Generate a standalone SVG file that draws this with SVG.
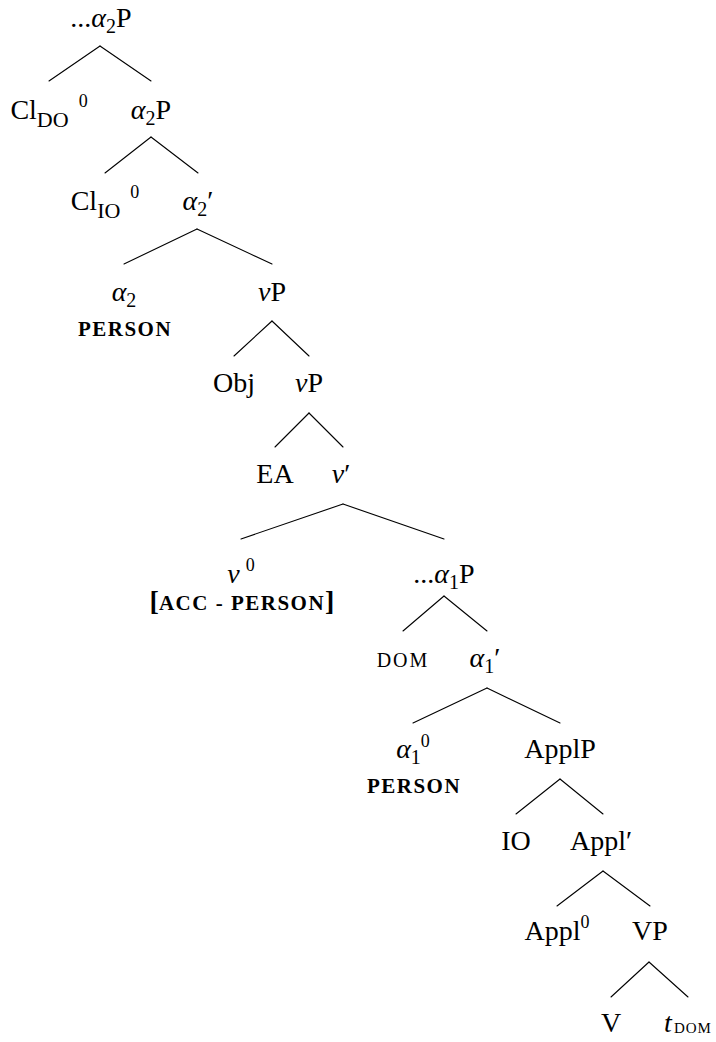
<svg xmlns="http://www.w3.org/2000/svg" width="716" height="1042" viewBox="0 0 716 1042">
<style>
  text { font-family: "Liberation Serif", "Times New Roman", serif; font-size: 28px; fill: #000; text-anchor: middle; }
  .i { font-style: italic; }
  .sub { font-size: 20px; }
  .sub22 { font-size: 22px; }
  .sup { font-size: 18px; }
  .sc { font-size: 20px; letter-spacing: 2px; }
  .scb { font-size: 21px; letter-spacing: 1.5px; font-weight: bold; }
  .scs { font-size: 15px; letter-spacing: 1px; }
  .b { font-weight: bold; }
  #connectors line { stroke: #000; stroke-width: 1.1; stroke-linecap: round; }
</style>
<rect width="716" height="1042" fill="#fff"/>
<g id="connectors">
  <line x1="100" y1="46" x2="49" y2="81"/>
  <line x1="100" y1="46" x2="151" y2="81"/>
  <line x1="151" y1="137" x2="105" y2="173"/>
  <line x1="151" y1="137" x2="198" y2="173"/>
  <line x1="197" y1="229" x2="124" y2="264"/>
  <line x1="197" y1="229" x2="272" y2="264"/>
  <line x1="272" y1="321" x2="234" y2="356"/>
  <line x1="272" y1="321" x2="309" y2="356"/>
  <line x1="309" y1="413" x2="275" y2="447"/>
  <line x1="309" y1="413" x2="343" y2="447"/>
  <line x1="343" y1="504" x2="241" y2="539"/>
  <line x1="343" y1="504" x2="444" y2="539"/>
  <line x1="444" y1="596" x2="403" y2="631"/>
  <line x1="444" y1="596" x2="487" y2="631"/>
  <line x1="487" y1="688" x2="413" y2="723"/>
  <line x1="487" y1="688" x2="560" y2="723"/>
  <line x1="560" y1="779" x2="516" y2="814"/>
  <line x1="560" y1="779" x2="603" y2="814"/>
  <line x1="603" y1="871" x2="557" y2="906"/>
  <line x1="603" y1="871" x2="650" y2="906"/>
  <line x1="649" y1="962" x2="611" y2="997"/>
  <line x1="649" y1="962" x2="688" y2="997"/>
</g>
<g id="n-a2P-top"><text x="101" y="27">...<tspan class="i">α</tspan><tspan class="sub" dy="6">2</tspan><tspan dy="-6">P</tspan></text></g>
<g id="n-ClDO"><text x="49" y="119">Cl<tspan class="sub22" dy="8">DO</tspan><tspan class="sup" dx="10" dy="-20">0</tspan></text></g>
<g id="n-a2P"><text x="151" y="119"><tspan class="i">α</tspan><tspan class="sub" dy="6">2</tspan><tspan dy="-6">P</tspan></text></g>
<g id="n-ClIO"><text x="105" y="210">Cl<tspan class="sub22" dy="8">IO</tspan><tspan class="sup" dx="10" dy="-20">0</tspan></text></g>
<g id="n-a2bar"><text x="198" y="210"><tspan class="i">α</tspan><tspan class="sub" dy="6">2</tspan><tspan dy="-6">′</tspan></text></g>
<g id="n-a2head">
  <text x="124" y="301"><tspan class="i">α</tspan><tspan class="sub" dy="6">2</tspan></text>
  <text x="125" y="336" class="scb">PERSON</text>
</g>
<g id="n-vP1"><text x="272" y="301"><tspan class="i">v</tspan>P</text></g>
<g id="n-Obj"><text x="234" y="392">Obj</text></g>
<g id="n-vP2"><text x="309" y="392"><tspan class="i">v</tspan>P</text></g>
<g id="n-EA"><text x="275" y="483">EA</text></g>
<g id="n-vbar"><text x="341" y="483"><tspan class="i">v</tspan>′</text></g>
<g id="n-v0">
  <text x="241" y="583"><tspan class="i">v</tspan><tspan class="sup" dx="6" dy="-12">0</tspan></text>
  <text x="242" y="610" class="b"><tspan>[</tspan><tspan class="scb">ACC - PERSON</tspan><tspan>]</tspan></text>
</g>
<g id="n-a1P"><text x="444" y="583">...<tspan class="i">α</tspan><tspan class="sub" dy="6">1</tspan><tspan dy="-6">P</tspan></text></g>
<g id="n-DOM"><text x="403" y="667" class="sc">DOM</text></g>
<g id="n-a1bar"><text x="485" y="667"><tspan class="i">α</tspan><tspan class="sub" dy="6">1</tspan><tspan dy="-6">′</tspan></text></g>
<g id="n-a1head">
  <text x="413" y="758"><tspan class="i">α</tspan><tspan class="sub" dy="6">1</tspan><tspan class="sup" dy="-17">0</tspan></text>
  <text x="414" y="793" class="scb">PERSON</text>
</g>
<g id="n-ApplP"><text x="560" y="758">ApplP</text></g>
<g id="n-IO"><text x="516" y="850">IO</text></g>
<g id="n-Applbar"><text x="601" y="850">Appl′</text></g>
<g id="n-Appl0"><text x="557" y="940">Appl<tspan class="sup" dy="-12">0</tspan></text></g>
<g id="n-VP"><text x="650" y="940">VP</text></g>
<g id="n-V"><text x="611" y="1032">V</text></g>
<g id="n-tDOM"><text x="688" y="1032"><tspan class="i">t</tspan><tspan class="scs" dx="2" dy="1">DOM</tspan></text></g>
</svg>
